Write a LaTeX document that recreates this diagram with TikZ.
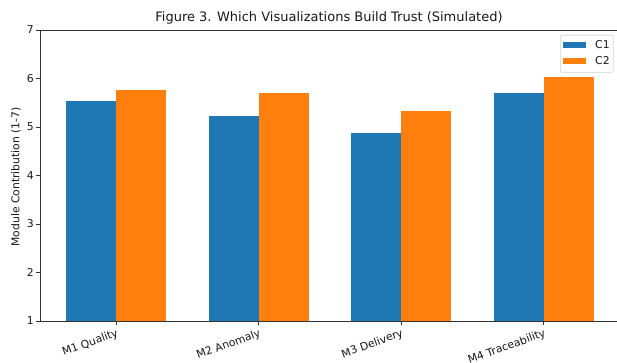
\documentclass[tikz,border=0pt]{standalone}
\usepackage{fontspec}
\setmainfont{DejaVu Sans}
\definecolor{cone}{HTML}{1F77B4}
\definecolor{ctwo}{HTML}{FF7F0E}
\begin{document}
\begin{tikzpicture}[x=1pt,y=1pt,
  spine/.style={draw=black!80, line width=0.8pt},
  tickmark/.style={draw=black!80, line width=0.8pt},
  ticklabel/.style={font=\fontsize{10.8}{13}\selectfont, text=black!90, inner sep=0pt},
  barone/.style={fill=cone, draw=none},
  bartwo/.style={fill=ctwo, draw=none},
  legendbox/.style={draw=black!18, fill=white, rounded corners=2pt, line width=0.6pt}]
\useasboundingbox (0,0) rectangle (617,363);
\clip (0,0) rectangle (617,363);
\fill[white] (0,0) rectangle (617,363);
% bars
\foreach \i/\a/\b in {0/5.54/5.76, 1/5.23/5.71, 2/4.88/5.34, 3/5.70/6.04} {
  \pgfmathsetmacro{\cx}{116+142.5*\i}
  \pgfmathsetmacro{\ya}{42+(\a-1)*48.5}
  \pgfmathsetmacro{\yb}{42+(\b-1)*48.5}
  \fill[barone] (\cx-50,42) rectangle (\cx,\ya);
  \fill[bartwo] (\cx,42) rectangle (\cx+50,\yb);
}
% spines
\draw[spine] (40,42) -- (40,333) -- (621,333);
\draw[spine] (40,42) -- (621,42);
% y ticks
\foreach \v in {1,...,7} {
  \pgfmathsetmacro{\yy}{42+(\v-1)*48.5}
  \draw[tickmark] (40,\yy) -- (36,\yy);
  \node[ticklabel, anchor=east] (yt\v) at (34,\yy) {\v};
}
% x ticks
\foreach \i/\lab in {0/M1 Quality, 1/M2 Anomaly, 2/M3 Delivery, 3/M4 Traceability} {
  \pgfmathsetmacro{\cx}{116+142.5*\i}
  \draw[tickmark] (\cx,42) -- (\cx,38);
  \node[ticklabel, anchor=north east, rotate=20] (xt\i) at (\cx,35) {\lab};
}
% labels
\node[font=\fontsize{13}{15}\selectfont, text=black!90] (title) at (329,345) {Figure 3. Which Visualizations Build Trust (Simulated)};
\node[ticklabel, rotate=90] (ylab) at (16,186) {Module Contribution (1-7)};
% legend
\node[legendbox, minimum width=53pt, minimum height=37pt, anchor=north west] (legend) at (560,328) {};
\fill[barone] (563,321) rectangle (586,315);
\fill[bartwo] (563,305) rectangle (586,299);
\node[ticklabel, anchor=west] (lc1) at (595,318) {C1};
\node[ticklabel, anchor=west] (lc2) at (595,302) {C2};
\end{tikzpicture}
\end{document}
